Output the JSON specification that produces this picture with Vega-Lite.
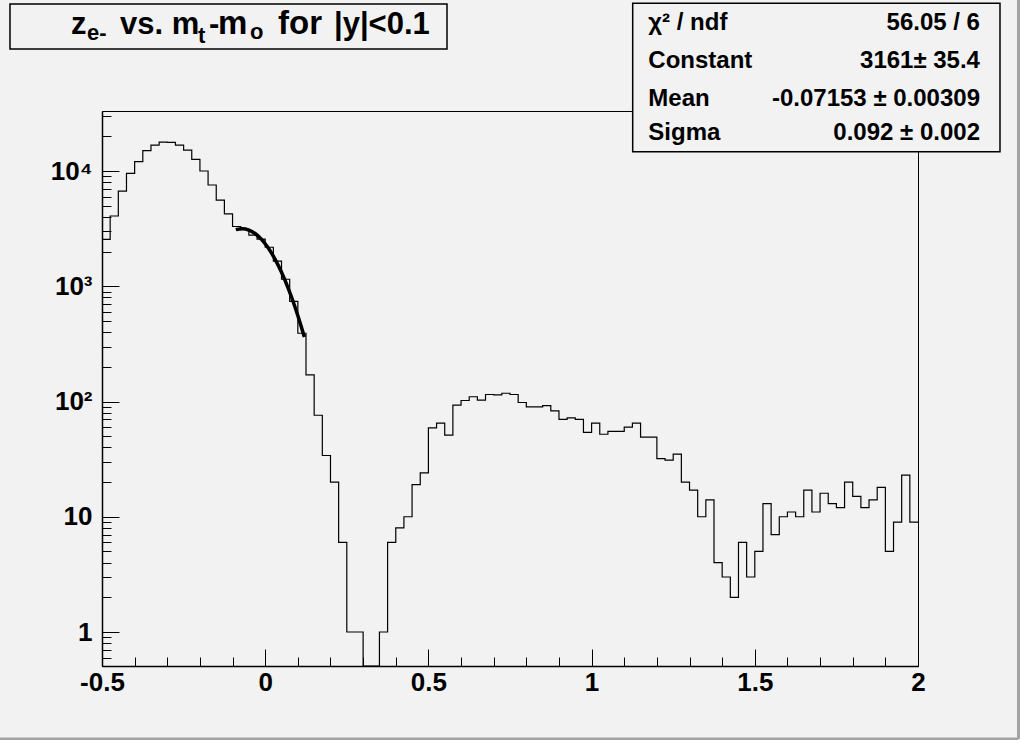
{
  "$schema": "https://vega.github.io/schema/vega-lite/v6.json",
  "width": 816,
  "height": 555,
  "autosize": {"type": "none"},
  "padding": {"left": 102, "top": 111, "right": 102, "bottom": 74},
  "background": "#f2f2f2",
  "config": {
    "view": {"stroke": "black", "strokeWidth": 1},
    "axis": {"labelFont": "Liberation Sans", "labelFontWeight": "bold", "labelFontSize": 26, "labelColor": "black", "tickColor": "black", "domainColor": "black", "grid": false, "tickWidth": 1, "domainWidth": 1.5, "labelFlush": false, "labelOverlap": false}
  },
  "layer": [
    {
      "layer": [
        {
          "data": {"values": [
            {"lo": -0.5, "hi": -0.475, "n": 2555}, {"lo": -0.475, "hi": -0.45, "n": 4070}, {"lo": -0.45, "hi": -0.425, "n": 6700}, {"lo": -0.425, "hi": -0.4, "n": 9550},
            {"lo": -0.4, "hi": -0.375, "n": 12040}, {"lo": -0.375, "hi": -0.35, "n": 15000}, {"lo": -0.35, "hi": -0.325, "n": 16800}, {"lo": -0.325, "hi": -0.3, "n": 17800},
            {"lo": -0.3, "hi": -0.275, "n": 17700}, {"lo": -0.275, "hi": -0.25, "n": 16800}, {"lo": -0.25, "hi": -0.225, "n": 15200}, {"lo": -0.225, "hi": -0.2, "n": 12640},
            {"lo": -0.2, "hi": -0.175, "n": 10000}, {"lo": -0.175, "hi": -0.15, "n": 7560}, {"lo": -0.15, "hi": -0.125, "n": 5600}, {"lo": -0.125, "hi": -0.1, "n": 4240},
            {"lo": -0.1, "hi": -0.075, "n": 3300}, {"lo": -0.075, "hi": -0.05, "n": 3110}, {"lo": -0.05, "hi": -0.025, "n": 2780}, {"lo": -0.025, "hi": 0, "n": 2560},
            {"lo": 0, "hi": 0.025, "n": 2180}, {"lo": 0.025, "hi": 0.05, "n": 1650}, {"lo": 0.05, "hi": 0.075, "n": 1150}, {"lo": 0.075, "hi": 0.1, "n": 740},
            {"lo": 0.1, "hi": 0.125, "n": 391}, {"lo": 0.125, "hi": 0.15, "n": 170}, {"lo": 0.15, "hi": 0.175, "n": 76}, {"lo": 0.175, "hi": 0.2, "n": 34},
            {"lo": 0.2, "hi": 0.225, "n": 20}, {"lo": 0.225, "hi": 0.25, "n": 6}, {"lo": 0.25, "hi": 0.275, "n": 1}, {"lo": 0.275, "hi": 0.3, "n": 1},
            {"lo": 0.3, "hi": 0.325, "n": 0}, {"lo": 0.325, "hi": 0.35, "n": 0}, {"lo": 0.35, "hi": 0.375, "n": 1}, {"lo": 0.375, "hi": 0.4, "n": 6},
            {"lo": 0.4, "hi": 0.425, "n": 8}, {"lo": 0.425, "hi": 0.45, "n": 10}, {"lo": 0.45, "hi": 0.475, "n": 19}, {"lo": 0.475, "hi": 0.5, "n": 24},
            {"lo": 0.5, "hi": 0.525, "n": 59}, {"lo": 0.525, "hi": 0.55, "n": 65}, {"lo": 0.55, "hi": 0.575, "n": 51}, {"lo": 0.575, "hi": 0.6, "n": 93},
            {"lo": 0.6, "hi": 0.625, "n": 102}, {"lo": 0.625, "hi": 0.65, "n": 110}, {"lo": 0.65, "hi": 0.675, "n": 103}, {"lo": 0.675, "hi": 0.7, "n": 115},
            {"lo": 0.7, "hi": 0.725, "n": 114}, {"lo": 0.725, "hi": 0.75, "n": 118}, {"lo": 0.75, "hi": 0.775, "n": 115}, {"lo": 0.775, "hi": 0.8, "n": 98},
            {"lo": 0.8, "hi": 0.825, "n": 90}, {"lo": 0.825, "hi": 0.85, "n": 90}, {"lo": 0.85, "hi": 0.875, "n": 92}, {"lo": 0.875, "hi": 0.9, "n": 83},
            {"lo": 0.9, "hi": 0.925, "n": 70}, {"lo": 0.925, "hi": 0.95, "n": 72}, {"lo": 0.95, "hi": 0.975, "n": 70}, {"lo": 0.975, "hi": 1, "n": 54},
            {"lo": 1, "hi": 1.025, "n": 65}, {"lo": 1.025, "hi": 1.05, "n": 52}, {"lo": 1.05, "hi": 1.075, "n": 55}, {"lo": 1.075, "hi": 1.1, "n": 55},
            {"lo": 1.1, "hi": 1.125, "n": 60}, {"lo": 1.125, "hi": 1.15, "n": 65}, {"lo": 1.15, "hi": 1.175, "n": 49}, {"lo": 1.175, "hi": 1.2, "n": 49},
            {"lo": 1.2, "hi": 1.225, "n": 32}, {"lo": 1.225, "hi": 1.25, "n": 31}, {"lo": 1.25, "hi": 1.275, "n": 35}, {"lo": 1.275, "hi": 1.3, "n": 20},
            {"lo": 1.3, "hi": 1.325, "n": 17}, {"lo": 1.325, "hi": 1.35, "n": 10}, {"lo": 1.35, "hi": 1.375, "n": 14}, {"lo": 1.375, "hi": 1.4, "n": 4},
            {"lo": 1.4, "hi": 1.425, "n": 3}, {"lo": 1.425, "hi": 1.45, "n": 2}, {"lo": 1.45, "hi": 1.475, "n": 6}, {"lo": 1.475, "hi": 1.5, "n": 3},
            {"lo": 1.5, "hi": 1.525, "n": 5}, {"lo": 1.525, "hi": 1.55, "n": 13}, {"lo": 1.55, "hi": 1.575, "n": 7}, {"lo": 1.575, "hi": 1.6, "n": 10},
            {"lo": 1.6, "hi": 1.625, "n": 11}, {"lo": 1.625, "hi": 1.65, "n": 10}, {"lo": 1.65, "hi": 1.675, "n": 17}, {"lo": 1.675, "hi": 1.7, "n": 11},
            {"lo": 1.7, "hi": 1.725, "n": 16}, {"lo": 1.725, "hi": 1.75, "n": 13}, {"lo": 1.75, "hi": 1.775, "n": 12}, {"lo": 1.775, "hi": 1.8, "n": 20},
            {"lo": 1.8, "hi": 1.825, "n": 15}, {"lo": 1.825, "hi": 1.85, "n": 12}, {"lo": 1.85, "hi": 1.875, "n": 14}, {"lo": 1.875, "hi": 1.9, "n": 18},
            {"lo": 1.9, "hi": 1.925, "n": 5}, {"lo": 1.925, "hi": 1.95, "n": 9}, {"lo": 1.95, "hi": 1.975, "n": 23}, {"lo": 1.975, "hi": 2, "n": 9}
          ]},
          "transform": [{"fold": ["lo", "hi"], "as": ["edge", "x"]}],
          "mark": {"type": "line", "color": "black", "strokeWidth": 1.2, "invalid": "show"},
          "encoding": {
            "x": {"field": "x", "type": "quantitative", "scale": {"domain": [-0.5, 2], "nice": false, "zero": false},
                  "axis": {"orient": "bottom", "values": [-0.5, 0, 0.5, 1, 1.5, 2], "tickSize": -17, "labelPadding": 20, "title": null,
                           "labelExpr": "datum.value < 0 ? '-' + format(-datum.value, '~g') : format(datum.value, '~g')"}},
            "y": {"field": "n", "type": "quantitative", "scale": {"type": "log", "domain": [0.507, 33170], "nice": false, "clamp": true},
                  "axis": {"orient": "left", "values": [1, 10, 100, 1000, 10000], "tickSize": -17, "labelPadding": 27, "title": null, "labelBaseline": "middle",
                           "labelExpr": "datum.value == 1 ? '1' : datum.value == 10 ? '10' : datum.value == 100 ? '10²' : datum.value == 1000 ? '10³' : '10⁴'"}},
            "order": [{"field": "x", "type": "quantitative"}, {"field": "edge", "type": "nominal"}]
          }
        },
        {
          "data": {"values": [
            {"fx": -0.09, "fy": 3098}, {"fx": -0.07, "fy": 3161}, {"fx": -0.05, "fy": 3076}, {"fx": -0.03, "fy": 2855},
            {"fx": -0.01, "fy": 2528}, {"fx": 0.01, "fy": 2134}, {"fx": 0.03, "fy": 1719}, {"fx": 0.05, "fy": 1321},
            {"fx": 0.07, "fy": 968}, {"fx": 0.09, "fy": 677}, {"fx": 0.11, "fy": 451}, {"fx": 0.12, "fy": 362}
          ]},
          "mark": {"type": "line", "color": "black", "strokeWidth": 3.5, "interpolate": "monotone"},
          "encoding": {
            "x": {"field": "fx", "type": "quantitative", "scale": {"domain": [-0.5, 2], "nice": false, "zero": false},
                  "axis": {"orient": "bottom", "values": [-0.4, -0.3, -0.2, -0.1, 0.1, 0.2, 0.3, 0.4, 0.6, 0.7, 0.8, 0.9, 1.1, 1.2, 1.3, 1.4, 1.6, 1.7, 1.8, 1.9],
                           "labels": false, "domain": false, "tickSize": -9, "title": null}},
            "y": {"field": "fy", "type": "quantitative", "scale": {"type": "log", "domain": [0.507, 33170], "nice": false, "clamp": true},
                  "axis": {"orient": "left", "values": [0.6, 0.7, 0.8, 0.9, 2, 3, 4, 5, 6, 7, 8, 9, 20, 30, 40, 50, 60, 70, 80, 90, 200, 300, 400, 500, 600, 700, 800, 900, 2000, 3000, 4000, 5000, 6000, 7000, 8000, 9000, 20000, 30000],
                           "labels": false, "domain": false, "tickSize": -9, "title": null}}
          }
        }
      ],
      "resolve": {"axis": {"x": "independent", "y": "independent"}}
    },
    {
      "data": {"values": [{}]},
      "layer": [
        {
          "mark": {"type": "rule", "color": "#a3a3a3", "strokeWidth": 3},
          "encoding": {
            "x": {"datum": 2.3079, "type": "quantitative", "scale": {"domain": [-0.5, 2], "nice": false, "zero": false}, "axis": null},
            "y": {"datum": 304600, "type": "quantitative", "scale": {"type": "log", "domain": [0.507, 33170], "nice": false}, "axis": null},
            "y2": {"datum": 0.1179}
          }
        },
        {
          "mark": {"type": "rule", "color": "#a3a3a3", "strokeWidth": 3},
          "encoding": {
            "x": {"datum": -0.8125, "type": "quantitative", "scale": {"domain": [-0.5, 2], "nice": false, "zero": false}, "axis": null},
            "x2": {"datum": 2.3079},
            "y": {"datum": 0.1179, "type": "quantitative", "scale": {"type": "log", "domain": [0.507, 33170], "nice": false}, "axis": null}
          }
        },
        {
          "mark": {"type": "rect", "fill": "#f2f2f2", "stroke": "black", "strokeWidth": 1.5},
          "encoding": {
            "x": {"datum": -0.7819, "type": "quantitative", "scale": {"domain": [-0.5, 2], "nice": false, "zero": false}, "axis": null},
            "x2": {"datum": 0.557},
            "y": {"datum": 281180, "type": "quantitative", "scale": {"type": "log", "domain": [0.507, 33170], "nice": false}, "axis": null},
            "y2": {"datum": 114440}
          }
        },
        {
          "mark": {"type": "rect", "fill": "#f2f2f2", "stroke": "black", "strokeWidth": 1.5},
          "encoding": {
            "x": {"datum": 1.1259, "type": "quantitative", "scale": {"domain": [-0.5, 2], "nice": false, "zero": false}, "axis": null},
            "x2": {"datum": 2.2512},
            "y": {"datum": 285150, "type": "quantitative", "scale": {"type": "log", "domain": [0.507, 33170], "nice": false}, "axis": null},
            "y2": {"datum": 14704}
          }
        },
        {
          "mark": {"type": "text", "text": "z", "align": "left", "baseline": "alphabetic", "font": "Liberation Sans", "fontWeight": "bold", "fontSize": 31, "color": "black"},
          "encoding": {"x": {"datum": -0.5950, "type": "quantitative", "scale": {"domain": [-0.5, 2], "nice": false, "zero": false}, "axis": null},
                       "y": {"datum": 153500, "type": "quantitative", "scale": {"type": "log", "domain": [0.507, 33170], "nice": false}, "axis": null}}
        },
        {
          "mark": {"type": "text", "text": "e-", "align": "left", "baseline": "alphabetic", "font": "Liberation Sans", "fontWeight": "bold", "fontSize": 22, "color": "black"},
          "encoding": {"x": {"datum": -0.5460, "type": "quantitative", "scale": {"domain": [-0.5, 2], "nice": false, "zero": false}, "axis": null},
                       "y": {"datum": 136980, "type": "quantitative", "scale": {"type": "log", "domain": [0.507, 33170], "nice": false}, "axis": null}}
        },
        {
          "mark": {"type": "text", "text": "vs. m", "align": "left", "baseline": "alphabetic", "font": "Liberation Sans", "fontWeight": "bold", "fontSize": 31, "color": "black"},
          "encoding": {"x": {"datum": -0.4449, "type": "quantitative", "scale": {"domain": [-0.5, 2], "nice": false, "zero": false}, "axis": null},
                       "y": {"datum": 153500, "type": "quantitative", "scale": {"type": "log", "domain": [0.507, 33170], "nice": false}, "axis": null}}
        },
        {
          "mark": {"type": "text", "text": "t", "align": "left", "baseline": "alphabetic", "font": "Liberation Sans", "fontWeight": "bold", "fontSize": 22, "color": "black"},
          "encoding": {"x": {"datum": -0.2059, "type": "quantitative", "scale": {"domain": [-0.5, 2], "nice": false, "zero": false}, "axis": null},
                       "y": {"datum": 128240, "type": "quantitative", "scale": {"type": "log", "domain": [0.507, 33170], "nice": false}, "axis": null}}
        },
        {
          "mark": {"type": "text", "text": "-", "align": "left", "baseline": "alphabetic", "font": "Liberation Sans", "fontWeight": "bold", "fontSize": 31, "color": "black"},
          "encoding": {"x": {"datum": -0.1722, "type": "quantitative", "scale": {"domain": [-0.5, 2], "nice": false, "zero": false}, "axis": null},
                       "y": {"datum": 153500, "type": "quantitative", "scale": {"type": "log", "domain": [0.507, 33170], "nice": false}, "axis": null}}
        },
        {
          "mark": {"type": "text", "text": "m", "align": "left", "baseline": "alphabetic", "font": "Liberation Sans", "fontWeight": "bold", "fontSize": 33, "color": "black"},
          "encoding": {"x": {"datum": -0.1446, "type": "quantitative", "scale": {"domain": [-0.5, 2], "nice": false, "zero": false}, "axis": null},
                       "y": {"datum": 153500, "type": "quantitative", "scale": {"type": "log", "domain": [0.507, 33170], "nice": false}, "axis": null}}
        },
        {
          "mark": {"type": "text", "text": "o", "align": "left", "baseline": "alphabetic", "font": "Liberation Sans", "fontWeight": "bold", "fontSize": 22, "color": "black"},
          "encoding": {"x": {"datum": -0.0466, "type": "quantitative", "scale": {"domain": [-0.5, 2], "nice": false, "zero": false}, "axis": null},
                       "y": {"datum": 138900, "type": "quantitative", "scale": {"type": "log", "domain": [0.507, 33170], "nice": false}, "axis": null}}
        },
        {
          "mark": {"type": "text", "text": "for", "align": "left", "baseline": "alphabetic", "font": "Liberation Sans", "fontWeight": "bold", "fontSize": 33, "color": "black"},
          "encoding": {"x": {"datum": 0.0392, "type": "quantitative", "scale": {"domain": [-0.5, 2], "nice": false, "zero": false}, "axis": null},
                       "y": {"datum": 153500, "type": "quantitative", "scale": {"type": "log", "domain": [0.507, 33170], "nice": false}, "axis": null}}
        },
        {
          "mark": {"type": "text", "text": "|y|<0.1", "align": "left", "baseline": "alphabetic", "font": "Liberation Sans", "fontWeight": "bold", "fontSize": 31, "color": "black"},
          "encoding": {"x": {"datum": 0.2108, "type": "quantitative", "scale": {"domain": [-0.5, 2], "nice": false, "zero": false}, "axis": null},
                       "y": {"datum": 153500, "type": "quantitative", "scale": {"type": "log", "domain": [0.507, 33170], "nice": false}, "axis": null}}
        },
        {
          "mark": {"type": "text", "text": "χ² / ndf", "align": "left", "baseline": "alphabetic", "font": "Liberation Sans", "fontWeight": "bold", "fontSize": 24, "color": "black"},
          "encoding": {"x": {"datum": 1.1737, "type": "quantitative", "scale": {"domain": [-0.5, 2], "nice": false, "zero": false}, "axis": null},
                       "y": {"datum": 168980, "type": "quantitative", "scale": {"type": "log", "domain": [0.507, 33170], "nice": false}, "axis": null}}
        },
        {
          "mark": {"type": "text", "text": "56.05 / 6", "align": "right", "baseline": "alphabetic", "font": "Liberation Sans", "fontWeight": "bold", "fontSize": 24, "color": "black"},
          "encoding": {"x": {"datum": 2.1899, "type": "quantitative", "scale": {"domain": [-0.5, 2], "nice": false, "zero": false}, "axis": null},
                       "y": {"datum": 168980, "type": "quantitative", "scale": {"type": "log", "domain": [0.507, 33170], "nice": false}, "axis": null}}
        },
        {
          "mark": {"type": "text", "text": "Constant", "align": "left", "baseline": "alphabetic", "font": "Liberation Sans", "fontWeight": "bold", "fontSize": 24, "color": "black"},
          "encoding": {"x": {"datum": 1.1737, "type": "quantitative", "scale": {"domain": [-0.5, 2], "nice": false, "zero": false}, "axis": null},
                       "y": {"datum": 78300, "type": "quantitative", "scale": {"type": "log", "domain": [0.507, 33170], "nice": false}, "axis": null}}
        },
        {
          "mark": {"type": "text", "text": "3161± 35.4", "align": "right", "baseline": "alphabetic", "font": "Liberation Sans", "fontWeight": "bold", "fontSize": 24, "color": "black"},
          "encoding": {"x": {"datum": 2.1899, "type": "quantitative", "scale": {"domain": [-0.5, 2], "nice": false, "zero": false}, "axis": null},
                       "y": {"datum": 78300, "type": "quantitative", "scale": {"type": "log", "domain": [0.507, 33170], "nice": false}, "axis": null}}
        },
        {
          "mark": {"type": "text", "text": "Mean", "align": "left", "baseline": "alphabetic", "font": "Liberation Sans", "fontWeight": "bold", "fontSize": 24, "color": "black"},
          "encoding": {"x": {"datum": 1.1737, "type": "quantitative", "scale": {"domain": [-0.5, 2], "nice": false, "zero": false}, "axis": null},
                       "y": {"datum": 37015, "type": "quantitative", "scale": {"type": "log", "domain": [0.507, 33170], "nice": false}, "axis": null}}
        },
        {
          "mark": {"type": "text", "text": "-0.07153 ± 0.00309", "align": "right", "baseline": "alphabetic", "font": "Liberation Sans", "fontWeight": "bold", "fontSize": 24, "color": "black"},
          "encoding": {"x": {"datum": 2.1899, "type": "quantitative", "scale": {"domain": [-0.5, 2], "nice": false, "zero": false}, "axis": null},
                       "y": {"datum": 37015, "type": "quantitative", "scale": {"type": "log", "domain": [0.507, 33170], "nice": false}, "axis": null}}
        },
        {
          "mark": {"type": "text", "text": "Sigma", "align": "left", "baseline": "alphabetic", "font": "Liberation Sans", "fontWeight": "bold", "fontSize": 24, "color": "black"},
          "encoding": {"x": {"datum": 1.1737, "type": "quantitative", "scale": {"domain": [-0.5, 2], "nice": false, "zero": false}, "axis": null},
                       "y": {"datum": 18578, "type": "quantitative", "scale": {"type": "log", "domain": [0.507, 33170], "nice": false}, "axis": null}}
        },
        {
          "mark": {"type": "text", "text": "0.092 ± 0.002", "align": "right", "baseline": "alphabetic", "font": "Liberation Sans", "fontWeight": "bold", "fontSize": 24, "color": "black"},
          "encoding": {"x": {"datum": 2.1899, "type": "quantitative", "scale": {"domain": [-0.5, 2], "nice": false, "zero": false}, "axis": null},
                       "y": {"datum": 18578, "type": "quantitative", "scale": {"type": "log", "domain": [0.507, 33170], "nice": false}, "axis": null}}
        }
      ]
    }
  ],
  "resolve": {"scale": {"x": "independent", "y": "independent"}}
}
